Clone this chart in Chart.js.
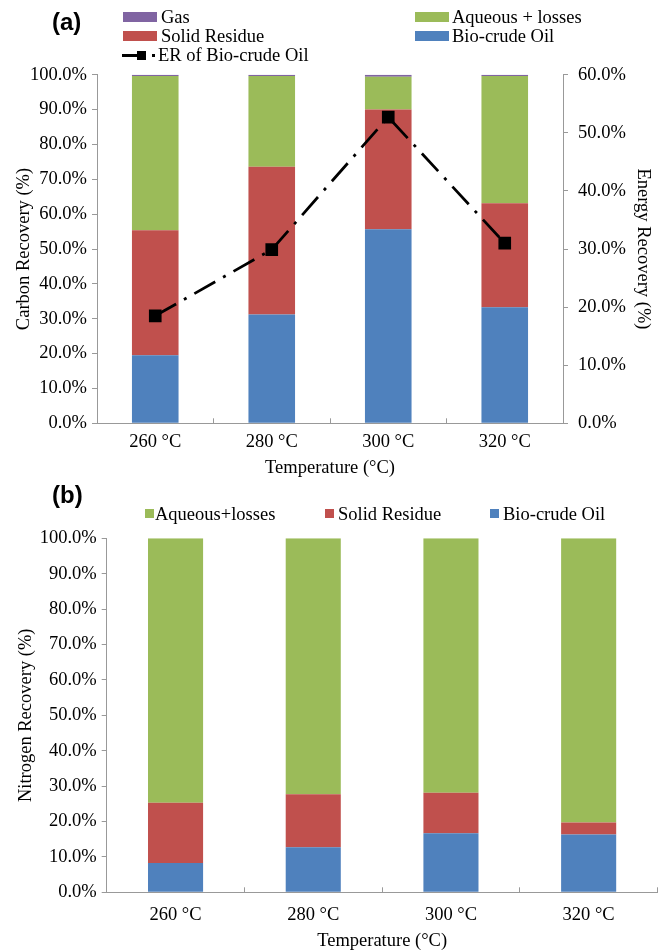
<!DOCTYPE html>
<html>
<head>
<meta charset="utf-8">
<title>Carbon and nitrogen recovery vs temperature</title>
<script src="https://cdn.jsdelivr.net/npm/chart.js"></script>
<style>
  html, body { margin: 0; padding: 0; background: #fff; overflow: hidden; }
  #page { position: relative; width: 665px; height: 950px; font-family: "Liberation Serif", "Times New Roman", serif; color: #000; }
  #page canvas { position: absolute; left: 0; }
  .panel { position: absolute; font-family: "Liberation Sans", Arial, sans-serif; font-weight: bold; font-size: 24px; line-height: 28px; }
  .leg { position: absolute; font-size: 18.5px; line-height: 20px; white-space: nowrap; }
  .sw { position: absolute; }
</style>
</head>
<body>
<div id="page">
  <canvas id="carbonChart" width="665" height="480" style="top:0"></canvas>
  <canvas id="nitrogenChart" width="665" height="472" style="top:480px"></canvas>

  <div class="panel" style="left:52px; top:8px">(a)</div>
  <div class="panel" style="left:52px; top:481px">(b)</div>

  <!-- legend (a): two columns like the original figure -->
  <div class="sw" style="left:123px; top:12px; width:34px; height:10px; background:#8064A2"></div>
  <div class="leg" style="left:161px; top:7px">Gas</div>
  <div class="sw" style="left:123px; top:31px; width:34px; height:10px; background:#C0504D"></div>
  <div class="leg" style="left:161px; top:26px">Solid Residue</div>
  <div class="sw" style="left:122px; top:54px; width:18px; height:3px; background:#000"></div>
  <div class="sw" style="left:137px; top:51px; width:9px; height:9px; background:#000"></div>
  <div class="sw" style="left:152px; top:54px; width:3px; height:3px; background:#000"></div>
  <div class="leg" style="left:158px; top:45px">ER of Bio-crude Oil</div>
  <div class="sw" style="left:415px; top:12px; width:34px; height:10px; background:#9BBB59"></div>
  <div class="leg" style="left:452px; top:7px">Aqueous + losses</div>
  <div class="sw" style="left:415px; top:31px; width:34px; height:10px; background:#4F81BD"></div>
  <div class="leg" style="left:452px; top:26px">Bio-crude Oil</div>

  <!-- legend (b) -->
  <div class="sw" style="left:145px; top:509px; width:9px; height:9px; background:#9BBB59"></div>
  <div class="leg" style="left:155px; top:504px">Aqueous+losses</div>
  <div class="sw" style="left:325px; top:509px; width:9px; height:9px; background:#C0504D"></div>
  <div class="leg" style="left:338px; top:504px">Solid Residue</div>
  <div class="sw" style="left:490px; top:509px; width:9px; height:9px; background:#4F81BD"></div>
  <div class="leg" style="left:503px; top:504px">Bio-crude Oil</div>
</div>

<script>
// categories
const temps = ['260 °C', '280 °C', '300 °C', '320 °C'];

// (a) carbon recovery, % (stacked, bottom to top)
const carbonBio = [19.5, 31.2, 55.7, 33.3];
const carbonSolid = [35.9, 42.4, 34.3, 29.8];
const carbonAqueous = [44.2, 26.0, 9.4, 36.5];
const carbonGas = [0.4, 0.4, 0.6, 0.4];

// (a) energy recovery of bio-crude oil, % (right axis)
const energyRecovery = [18.5, 29.9, 52.7, 31.0];

// (b) nitrogen recovery, %
const nitrogenBio = [8.3, 12.7, 16.7, 16.3];
const nitrogenSolid = [17.0, 15.0, 11.4, 3.4];
const nitrogenAqueous = [74.7, 72.3, 71.9, 80.3];

const blue = '#4F81BD', red = '#C0504D', green = '#9BBB59', purple = '#8064A2';
const axisGray = '#999999';

Chart.defaults.font.family = "'Liberation Serif', 'Times New Roman', serif";
Chart.defaults.font.size = 18.5;
Chart.defaults.color = '#000';

function fixWidth(w) { return function (scale) { scale.width = w; }; }
function fixHeight(h) { return function (scale) { scale.height = h; }; }
function pct(v) { return Number(v).toFixed(1) + '%'; }

function barSet(label, data, color) {
  return { type: 'bar', label: label, data: data, backgroundColor: color, borderWidth: 0, order: 1 };
}

new Chart(document.getElementById('carbonChart'), {
  type: 'bar',
  data: {
    labels: temps,
    datasets: [
      {
        type: 'line', label: 'ER of Bio-crude Oil', data: energyRecovery, yAxisID: 'y2', order: 0,
        borderColor: '#000', backgroundColor: '#000', borderWidth: 2.75, borderDash: [24, 9, 3, 9],
        pointStyle: 'rect', pointRadius: 7, pointHoverRadius: 7, tension: 0
      },
      barSet('Bio-crude Oil', carbonBio, blue),
      barSet('Solid Residue', carbonSolid, red),
      barSet('Aqueous + losses', carbonAqueous, green),
      barSet('Gas', carbonGas, purple)
    ]
  },
  options: {
    responsive: false,
    animation: false,
    layout: { padding: { top: 74.7, left: 0, right: 0, bottom: 0 } },
    plugins: { legend: { display: false }, tooltip: { enabled: false } },
    datasets: { bar: { barPercentage: 0.4, categoryPercentage: 1 } },
    scales: {
      x: {
        stacked: true,
        offset: true,
        grid: { drawOnChartArea: false, offset: true, tickLength: -5, color: axisGray },
        border: { color: axisGray },
        ticks: { padding: 13 },
        title: { display: true, text: 'Temperature (°C)', padding: { top: 0, bottom: 1 } },
        afterFit: fixHeight(56.7)
      },
      y: {
        stacked: true, min: 0, max: 100,
        ticks: { stepSize: 10, callback: pct, padding: 5 },
        grid: { drawOnChartArea: false, tickLength: 5, color: axisGray },
        border: { color: axisGray },
        title: { display: true, text: 'Carbon Recovery (%)', padding: { top: 13, bottom: 0 } },
        afterFit: fixWidth(97)
      },
      y2: {
        position: 'right', min: 0, max: 60,
        ticks: { stepSize: 10, callback: pct, padding: 10 },
        grid: { drawOnChartArea: false, tickLength: 5, color: axisGray },
        border: { color: axisGray },
        title: { display: true, text: 'Energy Recovery (%)', padding: { top: 11, bottom: 0 } },
        afterFit: fixWidth(102)
      }
    }
  }
});

new Chart(document.getElementById('nitrogenChart'), {
  type: 'bar',
  data: {
    labels: temps,
    datasets: [
      barSet('Bio-crude Oil', nitrogenBio, blue),
      barSet('Solid Residue', nitrogenSolid, red),
      barSet('Aqueous+losses', nitrogenAqueous, green)
    ]
  },
  options: {
    responsive: false,
    animation: false,
    layout: { padding: { top: 58.3, left: 0, right: 7.5, bottom: 0 } },
    plugins: { legend: { display: false }, tooltip: { enabled: false } },
    datasets: { bar: { barPercentage: 0.4, categoryPercentage: 1 } },
    scales: {
      x: {
        stacked: true,
        offset: true,
        grid: { drawOnChartArea: false, offset: true, tickLength: -5, color: axisGray },
        border: { color: axisGray },
        ticks: { padding: 17 },
        title: { display: true, text: 'Temperature (°C)', padding: { top: 0, bottom: 0 } },
        afterFit: fixHeight(59.7)
      },
      y: {
        stacked: true, min: 0, max: 100,
        ticks: { stepSize: 10, callback: pct, padding: 5 },
        grid: { drawOnChartArea: false, tickLength: 5, color: axisGray },
        border: { color: axisGray },
        title: { display: true, text: 'Nitrogen Recovery (%)', padding: { top: 15, bottom: 0 } },
        afterFit: fixWidth(106.7)
      }
    }
  }
});
</script>
</body>
</html>
